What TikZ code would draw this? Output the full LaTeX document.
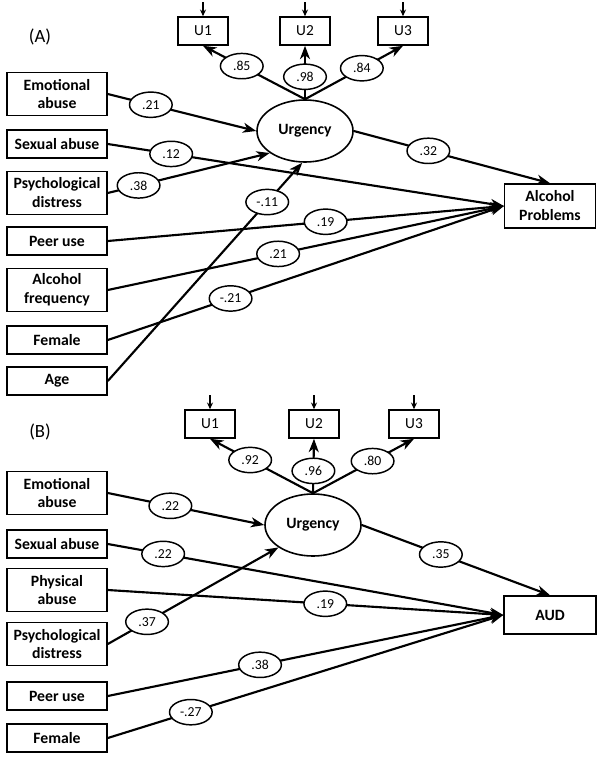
\documentclass[tikz,border=0pt]{standalone}
\usepackage{fontspec}
\setmainfont{Carlito}
\usetikzlibrary{arrows.meta,shapes.geometric,calc}

\tikzset{every picture/.style={line width=0.75pt}}
\tikzset{
  varbox/.style={draw, line width=1.2pt, minimum width=75pt, minimum height=21pt, inner sep=1pt, align=center, font=\bfseries\fontsize{11.8}{14.2}\selectfont},
  varbox2/.style={varbox, minimum height=32pt},
  itembox/.style={draw, line width=1.2pt, minimum width=37.5pt, minimum height=21pt, inner sep=1pt, font=\fontsize{11.5}{13}\selectfont},
  latent/.style={draw, ellipse, line width=1.2pt, minimum width=72pt, minimum height=46.5pt, inner sep=0pt, font=\bfseries\fontsize{11.8}{14}\selectfont},
  coef/.style={draw, ellipse, fill=white, line width=1.1pt, minimum width=32pt, minimum height=19pt, inner sep=0pt, font=\fontsize{10.3}{12}\selectfont},
  path/.style={line width=1.6pt, -{Stealth[length=10pt, width=7.5pt, inset=3pt]}},
  errarrow/.style={line width=1pt, -{Stealth[length=5pt, width=4.5pt]}},
  panel/.style={font=\fontsize{14}{16}\selectfont}
}

\begin{document}
\begin{tikzpicture}[x=0.75pt,y=0.75pt,yscale=-1,xscale=1]
\useasboundingbox (0,0) rectangle (602,760);

% ---------------- (A) ----------------
% Text Node
\draw (40,37) node [panel] (labA) {(A)};
%Shape: Rectangle
\draw (203,31) node [itembox] (u1A) {U1};
\draw (305,31) node [itembox] (u2A) {U2};
\draw (403,31) node [itembox] (u3A) {U3};
%Shape: Ellipse
\draw (305,131) node [latent] (urgA) {Urgency};
%Shape: Rectangle
\draw (57,94) node [varbox2] (emoA) {Emotional\\abuse};
\draw (57,144) node [varbox] (sexA) {Sexual abuse};
\draw (57,193) node [varbox2] (psyA) {Psychological\\distress};
\draw (57,241) node [varbox] (peerA) {Peer use};
\draw (57,290) node [varbox2] (alcA) {Alcohol\\frequency};
\draw (57,340) node [varbox] (femA) {Female};
\draw (57,381) node [varbox] (ageA) {Age};
\draw (550,206) node [varbox, minimum width=68pt, minimum height=33pt] (apA) {Alcohol\\Problems};

%Straight Lines
\coordinate (t1A) at ($(u1A.north)+(0,-14)$);
\coordinate (t2A) at ($(u2A.north)+(0,-14)$);
\coordinate (t3A) at ($(u3A.north)+(0,-14)$);
\draw [errarrow] (t1A) -- (u1A.north);
\draw [errarrow] (t2A) -- (u2A.north);
\draw [errarrow] (t3A) -- (u3A.north);
\draw [path] (urgA.north) -- node [coef, pos=0.62] {.85} (u1A.south);
\draw [path] (urgA.north) -- node [coef, pos=0.42] {.98} (u2A.south);
\draw [path] (urgA.north) -- node [coef, pos=0.58] {.84} (u3A.south);
\draw [path] (emoA.east) -- node [coef, pos=0.29] {.21} (urgA.west);
\draw [path] (sexA.east) -- node [coef, pos=0.16] {.12} (apA.west);
\draw [path] (ageA.east) -- node [coef, pos=0.82] {-.11} (urgA.265);
\draw [path] (psyA.east) -- node [coef, pos=0.19] {.38} (urgA.212);
\draw [path] (peerA.east) -- node [coef, pos=0.55] {.19} (apA.west);
\draw [path] (alcA.east) -- node [coef, pos=0.43] {.21} (apA.west);
\draw [path] (femA.east) -- node [coef, pos=0.31] {-.21} (apA.west);
\draw [path] (urgA.east) -- node [coef, pos=0.38] {.32} (apA.north);

% ---------------- (B) ----------------
% Text Node
\draw (40,432) node [panel] (labB) {(B)};
%Shape: Rectangle
\draw (210,424) node [itembox] (u1B) {U1};
\draw (314,424) node [itembox] (u2B) {U2};
\draw (414,424) node [itembox] (u3B) {U3};
%Shape: Ellipse
\draw (313,525) node [latent] (urgB) {Urgency};
%Shape: Rectangle
\draw (57,493) node [varbox2] (emoB) {Emotional\\abuse};
\draw (57,544) node [varbox] (sexB) {Sexual abuse};
\draw (57,590) node [varbox2] (physB) {Physical\\abuse};
\draw (57,644) node [varbox2] (psyB) {Psychological\\distress};
\draw (57,696) node [varbox] (peerB) {Peer use};
\draw (57,738) node [varbox] (femB) {Female};
\draw (550,615) node [varbox, minimum width=69pt, minimum height=28.5pt] (audB) {AUD};

%Straight Lines
\coordinate (t1B) at ($(u1B.north)+(0,-14)$);
\coordinate (t2B) at ($(u2B.north)+(0,-14)$);
\coordinate (t3B) at ($(u3B.north)+(0,-14)$);
\draw [errarrow] (t1B) -- (u1B.north);
\draw [errarrow] (t2B) -- (u2B.north);
\draw [errarrow] (t3B) -- (u3B.north);
\draw [path] (urgB.north) -- node [coef, pos=0.61] {.92} (u1B.south);
\draw [path] (urgB.north) -- node [coef, pos=0.41] {.96} (u2B.south);
\draw [path] (urgB.north) -- node [coef, pos=0.59] {.80} (u3B.south);
\draw [path] (emoB.east) -- node [coef, pos=0.40] {.22} (urgB.west);
\draw [path] (sexB.east) -- node [coef, pos=0.14] {.22} (audB.west);
\draw [path] (physB.east) -- node [coef, pos=0.55] {.19} (audB.west);
\draw [path] (psyB.east) -- node [coef, pos=0.23] {.37} (urgB.213);
\draw [path] (peerB.east) -- node [coef, pos=0.385] {.38} (audB.west);
\draw [path] (femB.east) -- node [coef, pos=0.21] {-.27} (audB.west);
\draw [path] (urgB.east) -- node [coef, pos=0.42] {.35} (audB.north);

\end{tikzpicture}
\end{document}
